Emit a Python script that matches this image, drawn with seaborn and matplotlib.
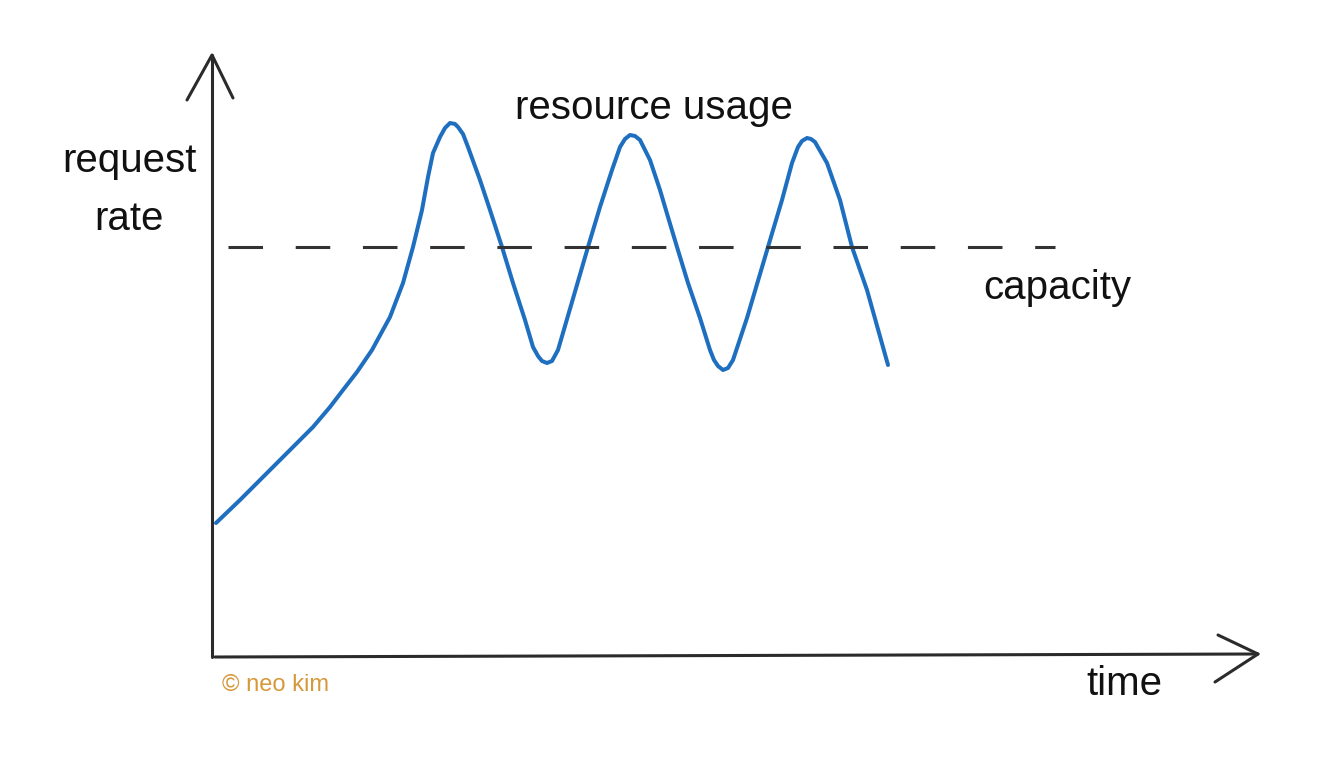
import matplotlib
matplotlib.use("Agg")
import matplotlib.pyplot as plt
import seaborn as sns
import pandas as pd

# ---- data (time units, request-rate units) ----
time = [0.4, 2.8, 5.5, 7.8, 10.1, 11.8, 13.1, 14.5, 16.0, 17.8, 19.1, 20.1, 21.0, 21.6,
        22.1, 22.8, 23.3, 23.8, 24.3, 24.6, 25.1, 25.6, 26.8, 27.8, 29.0, 30.1, 31.3,
        32.1, 32.6, 33.0, 33.5, 34.0, 34.6, 36.0, 37.6, 38.8, 40.0, 40.8, 41.3, 41.8,
        42.3, 42.8, 43.8, 44.8, 45.6, 46.5, 47.6, 48.8, 49.8, 50.2, 50.6, 51.1, 51.6,
        52.1, 53.5, 55.6, 57.0, 58.0, 58.6, 59.0, 59.5, 59.9, 60.3, 61.5, 62.8, 64.0,
        65.5, 67.6]
usage = [27.0, 31.6, 37.0, 41.6, 46.2, 50.2, 53.6, 57.2, 61.6, 68.2, 75.0, 82.2, 89.6, 96.2,
         101.0, 104.2, 106.0, 107.0, 106.8, 106.2, 104.8, 102.2, 95.6, 89.6, 82.2, 75.0, 67.6,
         62.2, 60.4, 59.4, 59.0, 59.4, 61.6, 71.2, 82.2, 90.2, 97.6, 102.2, 103.8, 104.6,
         104.4, 103.6, 99.6, 93.6, 88.2, 82.2, 75.0, 68.0, 61.6, 59.6, 58.4, 57.6, 58.0,
         59.6, 68.0, 82.2, 91.6, 99.0, 102.2, 103.4, 104.0, 103.8, 103.2, 99.0, 91.6, 82.2,
         73.6, 58.6]
capacity_level = 82.2
capacity_span = [1.6, 84.3]

# hand-drawn axis arrows
yaxis_t = [0.0, 0.0]
yaxis_r = [0.2, 120.6]
yhead_t = [-2.5, 0.0, 2.1]
yhead_r = [111.6, 120.6, 112.0]
xaxis_t = [0.3, 104.6]
xaxis_r = [0.2, 0.8]
xhead_t = [100.6, 104.6, 100.3]
xhead_r = [4.6, 0.8, -4.8]

W, H = 1318, 778
sns.set_theme(style="white")
plt.rcParams['font.family'] = ['Liberation Sans', 'DejaVu Sans']

fig = plt.figure(figsize=(W / 100, H / 100), dpi=100)
fig.patch.set_facecolor("white")
ax = fig.add_axes([212 / W, 120 / H, 1046 / W, 603 / H])
ax.set_xlim(0, 104.6)
ax.set_ylim(0, 120.6)
ax.axis("off")

df = pd.DataFrame({"time": time, "usage": usage})
sns.lineplot(data=df, x="time", y="usage", sort=False, estimator=None, ax=ax,
             color="#1f6fc0", linewidth=2.9, solid_capstyle="round",
             solid_joinstyle="round", clip_on=False)

ax.plot(capacity_span, [capacity_level, capacity_level], color="#333333",
        linewidth=2.2, dashes=(11.3, 10.7), dash_capstyle="butt", clip_on=False)

axis_color = "#2b2b2b"
for tt, rr in [(yaxis_t, yaxis_r), (yhead_t, yhead_r), (xaxis_t, xaxis_r), (xhead_t, xhead_r)]:
    ax.plot(tt, rr, color=axis_color, linewidth=2.2, clip_on=False,
            solid_capstyle="round", solid_joinstyle="round")

txt = "#111111"
fs = 29
ax.text(44.2, 107.8, "resource usage", ha="center", va="baseline", fontsize=fs, color=txt, clip_on=False)
ax.text(77.1, 71.8, "capacity", ha="left", va="baseline", fontsize=fs, color=txt, clip_on=False)
ax.text(87.4, -7.4, "time", ha="left", va="baseline", fontsize=fs, color=txt, clip_on=False)
ax.text(-8.3, 97.2, "request", ha="center", va="baseline", fontsize=fs, color=txt, clip_on=False)
ax.text(-8.3, 85.6, "rate", ha="center", va="baseline", fontsize=fs, color=txt, clip_on=False)
ax.text(1.0, -6.6, "© neo kim", ha="left", va="baseline", fontsize=17, color="#d6983a", clip_on=False)

fig.savefig("out.png", dpi=100, facecolor="white")
